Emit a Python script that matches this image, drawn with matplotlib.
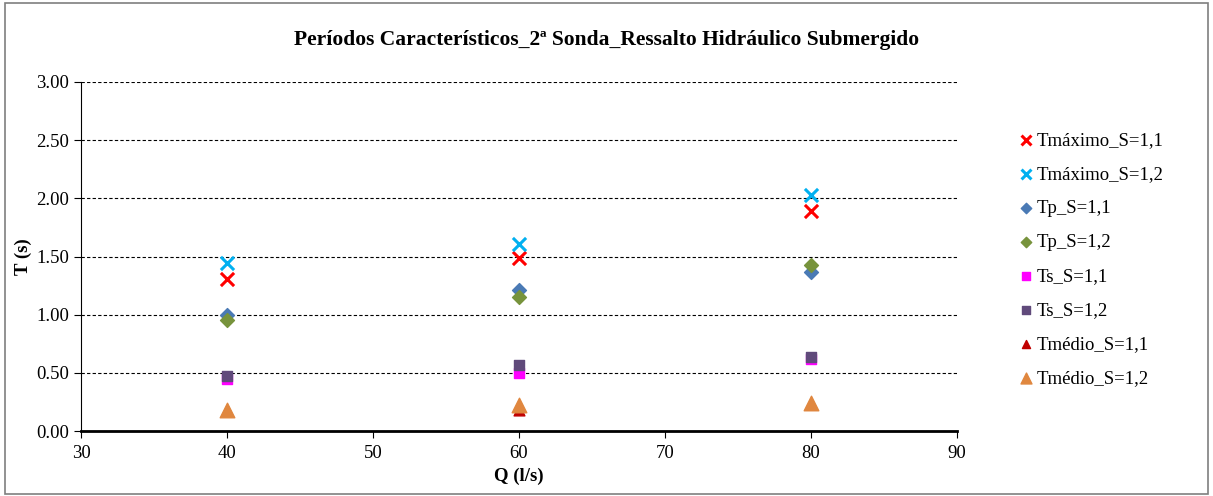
import matplotlib
matplotlib.use("Agg")
import matplotlib.pyplot as plt
from matplotlib.patches import Rectangle

plt.rcParams['font.family'] = ['Liberation Serif', 'DejaVu Serif']

Q = [40, 60, 80]
tmax_11 = [1.31, 1.49, 1.89]
tmax_12 = [1.44, 1.61, 2.03]
tp_11 = [1.00, 1.21, 1.37]
tp_12 = [0.95, 1.15, 1.43]
ts_11 = [0.45, 0.50, 0.62]
ts_12 = [0.47, 0.57, 0.64]
tmed_11 = [0.18, 0.18, 0.23]
tmed_12 = [0.18, 0.22, 0.24]

xticks = [30, 40, 50, 60, 70, 80, 90]
yticks = [0.0, 0.5, 1.0, 1.5, 2.0, 2.5, 3.0]

fig = plt.figure(figsize=(12.13, 4.96), dpi=100)
fig.patches.append(Rectangle((0.004, 0.004), 0.992, 0.99, transform=fig.transFigure,
                             fill=False, edgecolor='#7f7f7f', linewidth=1.2))
W, H = 1213, 496
ax = fig.add_axes([81 / W, 1 - 431 / H, (957 - 81) / W, (431 - 82) / H])

series = [
    (tmax_11, 'Tmáximo_S=1,1', dict(marker='x', color='#ff0000', s=90, linewidths=2.2)),
    (tmax_12, 'Tmáximo_S=1,2', dict(marker='x', color='#00b0f0', s=90, linewidths=2.2)),
    (tp_11, 'Tp_S=1,1', dict(marker='D', color='#4a7ab5', s=50)),
    (tp_12, 'Tp_S=1,2', dict(marker='D', color='#77933c', s=50)),
    (ts_11, 'Ts_S=1,1', dict(marker='s', color='#ff00ff', s=55)),
    (ts_12, 'Ts_S=1,2', dict(marker='s', color='#604a7b', s=55)),
    (tmed_11, 'Tmédio_S=1,1', dict(marker='^', color='#c00000', s=60)),
    (tmed_12, 'Tmédio_S=1,2', dict(marker='^', color='#e0873f', s=110)),
]
for vals, lab, kw in series:
    ax.scatter(Q, vals, label=lab, zorder=3, **kw)

ax.set_xlim(30, 90)
ax.set_ylim(0, 3)
ax.set_xticks(xticks)
ax.set_yticks(yticks)
ax.set_yticklabels([f'{v:.2f}' for v in yticks])
ax.grid(axis='y', color='black', linestyle=(0, (3, 2)), linewidth=0.8)
ax.set_axisbelow(True)
for s in ['top', 'right']:
    ax.spines[s].set_visible(False)
ax.spines['bottom'].set_linewidth(2)
ax.tick_params(axis='both', labelsize=13.5, direction='out', length=5)
ax.tick_params(axis='x', pad=5)
ax.set_xlabel('Q (l/s)', fontsize=13.5, fontweight='bold', labelpad=4)
ax.set_ylabel('T (s)', fontsize=13.5, fontweight='bold', labelpad=3)

fig.text(0.5, 1 - 40 / H, 'Períodos Característicos_2ª Sonda_Ressalto Hidráulico Submergido',
         ha='center', va='center', fontsize=15.5, fontweight='bold')

leg = ax.legend(loc='upper left', bbox_to_anchor=(999 / W, 1 - 115 / H),
                bbox_transform=fig.transFigure, frameon=False, fontsize=13.5,
                handletextpad=0.0, labelspacing=0.9, handlelength=1.1, markerscale=0.75)

fig.savefig('out.png', dpi=100)
